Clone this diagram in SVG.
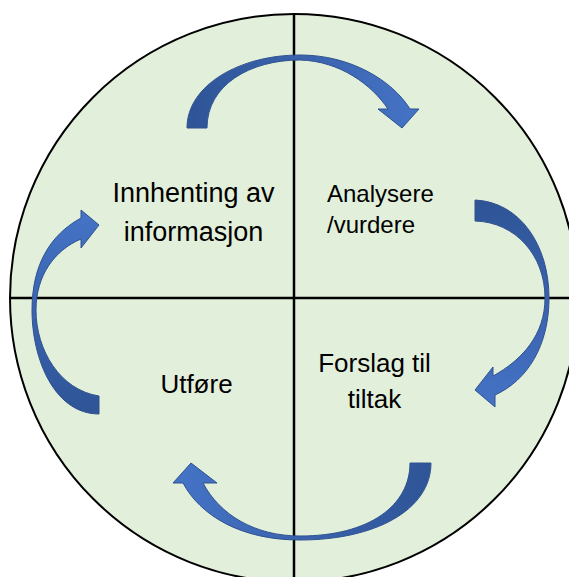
<svg xmlns="http://www.w3.org/2000/svg" width="569" height="577" viewBox="0 0 569 577">
<style>
.lbl{font-family:"Liberation Sans",Arial,sans-serif;fill:#000;}
.arrow{stroke:#2f528f;stroke-width:1;stroke-linejoin:miter;}
.axis{stroke:#000;stroke-width:2.5;fill:none;}
</style>
<defs>
<linearGradient id="gTop" gradientUnits="userSpaceOnUse" x1="190" y1="100" x2="410" y2="100">
<stop offset="0" stop-color="#2f5597"/><stop offset="0.5" stop-color="#3a62ad"/><stop offset="1" stop-color="#4472c4"/>
</linearGradient>
<linearGradient id="gRight" gradientUnits="userSpaceOnUse" x1="500" y1="205" x2="500" y2="400">
<stop offset="0" stop-color="#2f5597"/><stop offset="0.5" stop-color="#3a62ad"/><stop offset="1" stop-color="#4472c4"/>
</linearGradient>
<linearGradient id="gBottom" gradientUnits="userSpaceOnUse" x1="430" y1="500" x2="185" y2="500">
<stop offset="0" stop-color="#2f5597"/><stop offset="0.5" stop-color="#3a62ad"/><stop offset="1" stop-color="#4472c4"/>
</linearGradient>
<linearGradient id="gLeft" gradientUnits="userSpaceOnUse" x1="60" y1="410" x2="60" y2="220">
<stop offset="0" stop-color="#2f5597"/><stop offset="0.5" stop-color="#3a62ad"/><stop offset="1" stop-color="#4472c4"/>
</linearGradient>
</defs>

<g id="background">
<circle cx="294" cy="298" r="284" fill="#e2efda" stroke="#000" stroke-width="2"/>
<line class="axis" x1="10" y1="298" x2="569" y2="298"/>
<line class="axis" x1="294" y1="14" x2="294" y2="577"/>
</g>

<g id="connectors">
<path id="arrow-top" class="arrow" fill="url(#gTop)" d="M187,128 C187,85 240,55 300,55 C350,55 392,80 410,109 L419,109 L402,128 L378,109 L388,109 C372,85 340,61 300,60 C250,60 207,85 207,128 Z"/>
<path id="arrow-right" class="arrow" fill="url(#gRight)" d="M475,200 C520,202 549,245 549,298 C549,345 528,380 495,395 L495,407 L475,390 L493,367 L493,376 C522,360 545,335 545,298 C545,255 515,222 475,221 Z"/>
<path id="arrow-bottom" class="arrow" fill="url(#gBottom)" d="M431,463 C431,510 375,540 300,540 C240,540 200,515 183,483 L173,483 L191,463 L217,483 L203,483 C220,515 255,536 300,536 C370,536 410,505 410,463 Z"/>
<path id="arrow-left" class="arrow" fill="url(#gLeft)" d="M99,414 C55,414 32,360 32,310 C32,265 50,235 81,218 L81,210 L99,225 L81,248 L81,239 C55,250 36,275 36,310 C36,350 60,390 99,396 Z"/>
</g>

<g id="node-innhenting">
<text class="lbl" font-size="27" text-anchor="middle" x="193.5" y="202">Innhenting av</text>
<text class="lbl" font-size="27" text-anchor="middle" x="193.5" y="241">informasjon</text>
</g>
<g id="node-analysere">
<text class="lbl" font-size="24" x="327" y="202">Analysere</text>
<text class="lbl" font-size="24" x="327" y="233">/vurdere</text>
</g>
<g id="node-forslag">
<text class="lbl" font-size="26" text-anchor="middle" x="374.5" y="372">Forslag til</text>
<text class="lbl" font-size="26" text-anchor="middle" x="374.5" y="408">tiltak</text>
</g>
<g id="node-utfore">
<text class="lbl" font-size="26" text-anchor="middle" x="196.5" y="393">Utføre</text>
</g>
</svg>
